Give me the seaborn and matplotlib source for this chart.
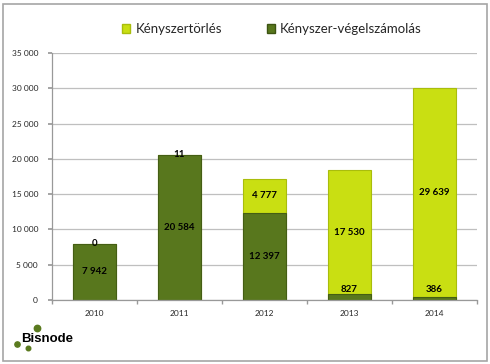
import numpy as np
import pandas as pd
import seaborn as sns
import matplotlib.pyplot as plt
from matplotlib.lines import Line2D
from matplotlib.patches import Rectangle

sns.set_theme(style="white")
plt.rcParams['font.family'] = ['Lato', 'DejaVu Sans']

years = ['2010', '2011', '2012', '2013', '2014']
vegelszamolas = [7942, 20584, 12397, 827, 386]
torles = [0, 11, 4777, 17530, 29639]

dark_green = '#58771d'
yellow_green = '#c9df12'

df = pd.DataFrame({'Év': years, 'Kényszer-végelszámolás': vegelszamolas,
                   'Kényszertörlés': torles})
df['Összesen'] = df['Kényszer-végelszámolás'] + df['Kényszertörlés']

fig = plt.figure(figsize=(4.9, 3.64), dpi=100)
ax = fig.add_axes([0.106, 0.176, 0.867, 0.678])

# stacked: totals first (yellow), then the bottom series over it
sns.barplot(data=df, x='Év', y='Összesen', color=yellow_green, saturation=1,
            width=0.5, edgecolor='#a9bd0c', linewidth=0.8, ax=ax)
sns.barplot(data=df, x='Év', y='Kényszer-végelszámolás', color=dark_green,
            saturation=1, width=0.5, edgecolor='#445e14', linewidth=0.8, ax=ax)


def fmt(v):
    return f'{v:,}'.replace(',', ' ')


for i, (b, t) in enumerate(zip(vegelszamolas, torles)):
    ax.text(i, max(b / 2, 1500), fmt(b), ha='center', va='center',
            fontsize=7, fontweight='bold', color='black')
    ax.text(i, b + t / 2, fmt(t), ha='center', va='center',
            fontsize=7, fontweight='bold', color='black')

ax.set_ylim(0, 35000)
ax.set_xlim(-0.5, 4.5)
ax.set_yticks(np.arange(0, 35001, 5000))
ax.set_yticklabels([fmt(v) for v in range(0, 35001, 5000)])
ax.set_xlabel('')
ax.set_ylabel('')
ax.yaxis.grid(True, color='#bfbfbf', linewidth=0.9)
ax.set_axisbelow(True)
for s in ['top', 'right']:
    ax.spines[s].set_visible(False)
for s in ['left', 'bottom']:
    ax.spines[s].set_color('#999999')
    ax.spines[s].set_linewidth(0.9)
ax.tick_params(axis='y', length=3, color='#999999', pad=7, labelsize=6,
               left=True)
ax.tick_params(axis='x', length=0, pad=7, labelsize=6)
ax.set_xticks(np.arange(-0.5, 5, 1), minor=True)
ax.tick_params(axis='x', which='minor', length=3, color='#999999', bottom=True)

handles = [Rectangle((0, 0), 1, 1, facecolor=yellow_green, edgecolor='#a9bd0c'),
           Rectangle((0, 0), 1, 1, facecolor=dark_green, edgecolor='#3d5412')]
fig.legend(handles, ['Kényszertörlés', 'Kényszer-végelszámolás'], ncol=2,
           loc='center', bbox_to_anchor=(272 / 490, 0.92), frameon=False,
           fontsize=9.5, handlelength=0.6, handleheight=0.6,
           handletextpad=0.4, columnspacing=3.4)

# Bisnode logo
fig.text(21 / 490, 1 - 338.5 / 364, 'Bisnode', family='Liberation Sans',
         fontweight='bold', fontsize=9.5, va='center', ha='left', color='black')
for x, y, s in [(37, 328, 4.6), (17, 344, 3.8), (28, 348, 3.3)]:
    fig.add_artist(Line2D([x / 490], [1 - y / 364], marker='o', markersize=s,
                          color='#5a7a1e', transform=fig.transFigure))

fig.add_artist(Rectangle((3 / 490, 3 / 364), 484 / 490, 357 / 364,
                         transform=fig.transFigure, fill=False,
                         edgecolor='#a6a6a6', linewidth=1.2))

fig.savefig('out.png', dpi=100)
